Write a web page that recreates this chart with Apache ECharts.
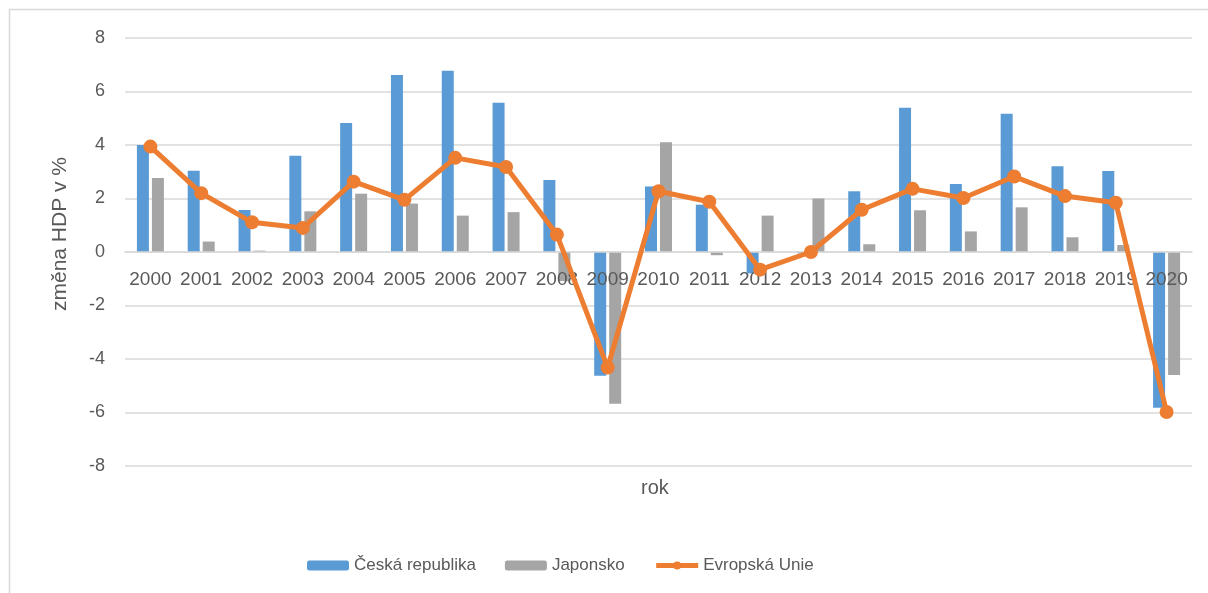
<!DOCTYPE html>
<html>
<head>
<meta charset="utf-8">
<script src="https://cdn.jsdelivr.net/npm/echarts@6/dist/echarts.min.js"></script>
<style>
html,body{margin:0;padding:0;background:#fff;}
#chart{width:1208px;height:593px;}
</style>
</head>
<body>
<div id="chart"></div>
<script>
const years = ['2000','2001','2002','2003','2004','2005','2006','2007','2008','2009','2010','2011','2012','2013','2014','2015','2016','2017','2018','2019','2020'];
const ceskaRepublika = [4.0, 3.04, 1.57, 3.6, 4.82, 6.62, 6.78, 5.58, 2.69, -4.63, 2.45, 1.77, -0.8, -0.05, 2.27, 5.39, 2.54, 5.17, 3.21, 3.03, -5.82];
const japonsko = [2.77, 0.39, 0.05, 1.52, 2.18, 1.81, 1.36, 1.49, -1.09, -5.67, 4.1, -0.12, 1.36, 2.0, 0.29, 1.56, 0.77, 1.67, 0.55, 0.26, -4.6];
const evropskaUnie = [3.94, 2.2, 1.11, 0.9, 2.63, 1.95, 3.52, 3.18, 0.65, -4.32, 2.27, 1.88, -0.66, 0.0, 1.58, 2.36, 2.02, 2.82, 2.09, 1.84, -5.98];
const yTicks = [-8, 8, 2];

const font = '"Liberation Sans", Arial, sans-serif';
const gridTop = 38, gridBottom = 127, H = 593;
const plotH = H - gridTop - gridBottom;
// move category axis up to the zero line (computed from the y scale)
const zeroOffset = -plotH * (0 - yTicks[0]) / (yTicks[1] - yTicks[0]);

const chart = echarts.init(document.getElementById('chart'));
chart.setOption({
  animation: false,
  backgroundColor: '#ffffff',
  textStyle: { fontFamily: font, color: '#595959' },
  grid: { left: 125, right: 16, top: gridTop, bottom: gridBottom, containLabel: false },
  graphic: [
    { type: 'rect', shape: { x: 9.5, y: 9.5, width: 1300, height: 700 }, style: { fill: 'none', stroke: '#d9d9d9', lineWidth: 1.5 }, silent: true },
    { type: 'text', left: 658 - 17, top: 478, style: { text: 'rok', font: '20px ' + font, fill: '#595959' } }
  ],
  legend: {
    bottom: 14,
    left: 302,
    itemWidth: 42,
    itemHeight: 10,
    itemGap: 29,
    textStyle: { fontSize: 17, color: '#595959', fontFamily: font },
    lineStyle: { width: 5 },
    data: ['Česká republika', 'Japonsko', 'Evropská Unie']
  },
  xAxis: {
    type: 'category',
    data: years,
    z: 4,
    offset: zeroOffset,
    axisLine: { onZero: false, lineStyle: { color: '#d9d9d9', width: 1.5 } },
    axisTick: { show: false },
    axisLabel: { interval: 0, fontSize: 19, margin: 18, color: '#595959', fontFamily: font }
  },
  yAxis: {
    type: 'value',
    min: yTicks[0], max: yTicks[1], interval: yTicks[2],
    name: 'změna HDP v %',
    nameLocation: 'middle',
    nameGap: 54,
    nameTextStyle: { fontSize: 21, color: '#595959', fontFamily: font, padding: [0, 0, 0, 36] },
    axisLine: { show: false },
    axisTick: { show: false },
    axisLabel: { fontSize: 18, margin: 20, color: '#595959', fontFamily: font },
    splitLine: { lineStyle: { color: '#d9d9d9', width: 1.5 } }
  },
  series: [
    { name: 'Česká republika', type: 'bar', data: ceskaRepublika, barWidth: 12, barGap: '25%', z: 1, itemStyle: { color: '#5B9BD5' } },
    { name: 'Japonsko', type: 'bar', data: japonsko, barWidth: 12, barGap: '25%', z: 1, itemStyle: { color: '#A5A5A5' } },
    { name: 'Evropská Unie', type: 'line', data: evropskaUnie, z: 6, symbol: 'circle', symbolSize: 14,
      lineStyle: { color: '#ED7D31', width: 5 }, itemStyle: { color: '#ED7D31' } }
  ]
});
</script>
</body>
</html>
